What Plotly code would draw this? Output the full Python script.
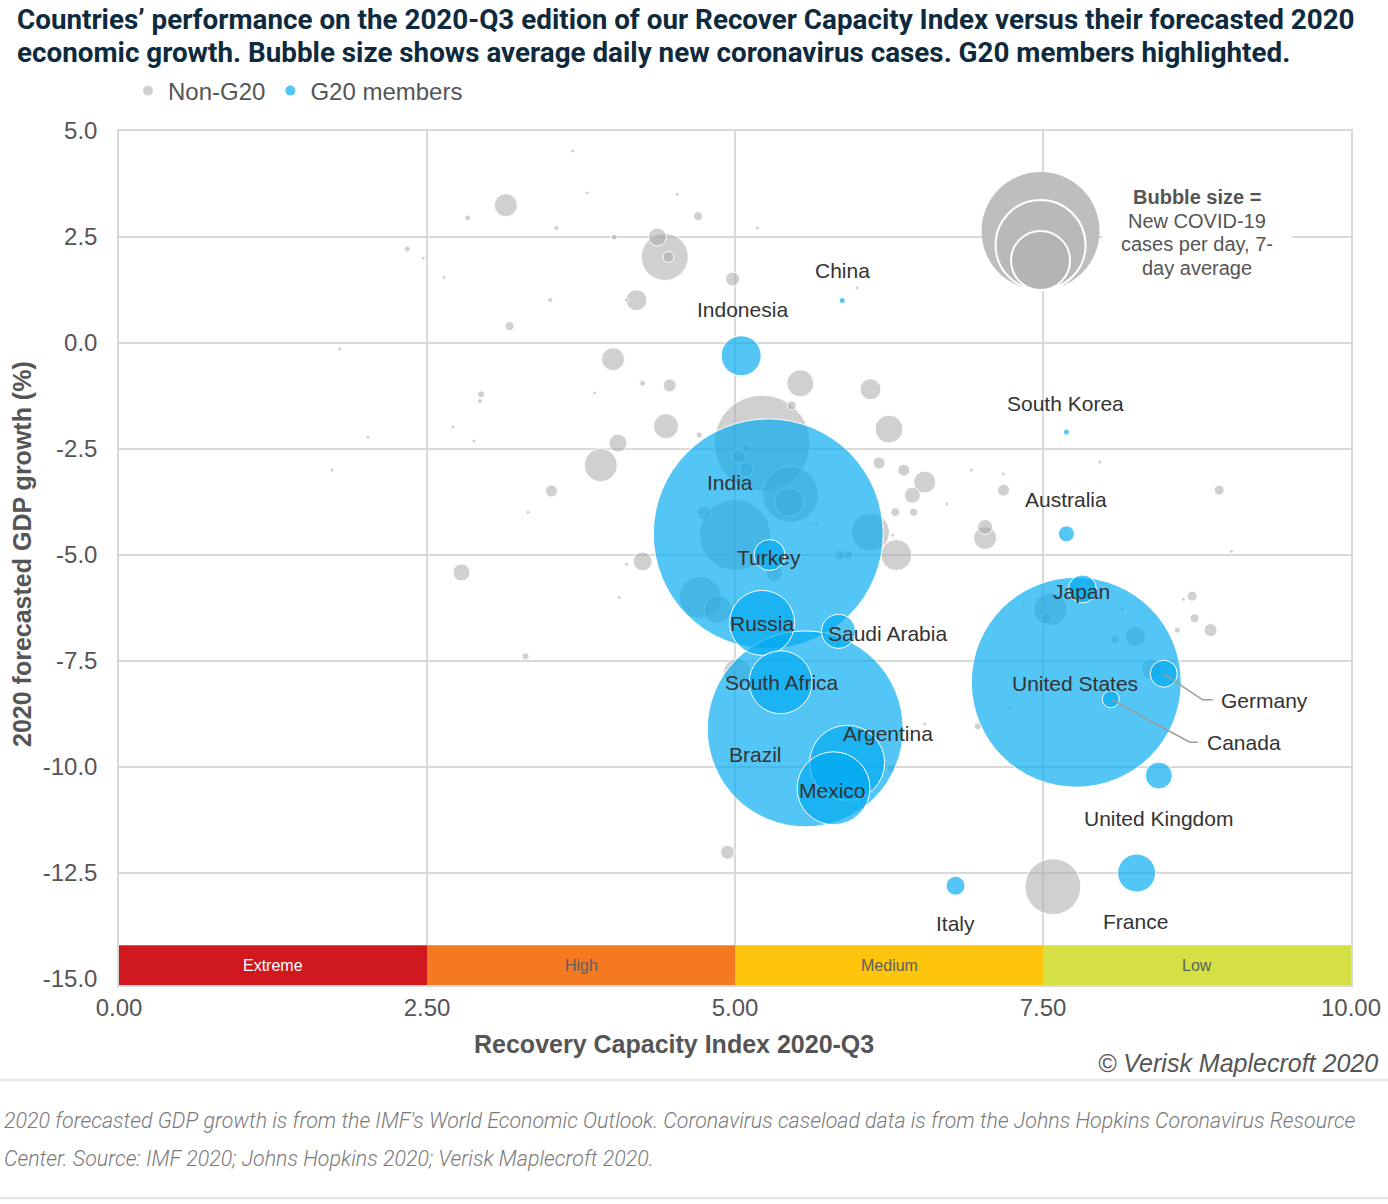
import plotly.graph_objects as go

# ---------------- data ----------------
g20_names = ["China", "Indonesia", "South Korea", "Australia", "India", "Turkey", "Japan",
             "Russia", "Saudi Arabia", "Germany", "United States", "South Africa", "Canada",
             "Brazil", "Argentina", "United Kingdom", "Mexico", "France", "Italy"]
g20_rci = [5.87, 5.05, 7.69, 7.69, 5.27, 5.28, 7.82, 5.22, 5.84, 8.48, 7.77, 5.37, 8.05,
           5.57, 5.91, 8.44, 5.80, 8.26, 6.79]
g20_gdp = [1.0, -0.3, -2.1, -4.5, -4.5, -5.0, -5.8, -6.6, -6.8, -7.8, -8.0, -8.0, -8.4,
           -9.1, -9.9, -10.2, -10.5, -12.5, -12.8]
g20_cases = [41, 1814, 41, 290, 60000, 1090, 889, 4791, 1311, 827, 50000, 4501, 328,
             43560, 6379, 827, 6043, 1637, 409]

non_rci = [3.68, 3.80, 4.53, 3.14, 2.83, 4.70, 3.55, 5.18, 4.02, 4.37, 4.43, 4.46, 4.98, 4.20,
           4.12, 3.50, 3.17, 2.34, 2.47, 2.64, 5.99, 4.01, 4.25, 4.47, 3.86, 5.53, 6.10, 5.46,
           2.94, 2.93, 2.71, 2.88, 2.02, 1.79, 1.73, 4.44, 6.25, 4.05, 4.71, 5.22, 3.91, 3.51,
           3.32, 5.09, 5.03, 5.09, 6.17, 6.37, 6.54, 6.44, 6.30, 6.45, 5.45, 5.44, 5.00, 4.75,
           6.10, 6.31, 6.28, 5.85, 5.92, 5.66, 5.32, 4.25, 4.12, 4.72, 4.86, 4.06, 3.30, 2.78,
           7.96, 6.92, 7.18, 7.18, 8.93, 6.72, 7.03, 7.03, 9.03, 7.56, 7.53, 7.34, 8.14, 8.25,
           8.08, 8.71, 8.64, 8.73, 8.59, 8.86, 8.38, 6.97, 7.23, 7.58, 4.94, 5.02, 6.54, 6.27]
non_gdp = [4.53, 3.54, 3.51, 3.25, 2.95, 2.99, 2.71, 2.71, 2.50, 2.50, 2.03, 2.03, 1.51, 1.01,
           1.01, 1.01, 0.40, 2.22, 2.00, 1.55, 1.30, -0.38, -0.95, -1.00, -1.18, -0.95, -1.09,
           -1.47, -1.21, -1.37, -1.98, -2.31, -2.22, -0.14, -3.00, -1.96, -2.03, -2.36, -2.17,
           -2.36, -2.88, -3.49, -3.99, -2.48, -2.67, -2.98, -2.83, -3.00, -3.28, -3.59, -3.99,
           -3.99, -3.57, -3.75, -4.53, -4.01, -4.46, -5.00, -4.53, -5.00, -5.00, -4.27, -5.43,
           -5.15, -5.22, -6.00, -6.28, -6.00, -7.39, -5.41, -2.81, -3.00, -3.09, -3.47, -3.47,
           -3.80, -4.34, -4.60, -4.91, -6.28, -6.49, -6.18, -6.28, -6.92, -6.99, -5.97, -6.04,
           -6.49, -6.77, -6.77, -7.69, -9.04, -8.59, -12.82, -12.01, -7.77, -8.99, -10.03]
non_cases = [10, 5, 5, 600, 41, 92, 28, 10, 41, 367, 2505, 137, 222, 500, 18, 28, 92, 41, 5, 5,
             5, 600, 41, 192, 18, 827, 500, 92, 56, 28, 18, 5, 18, 5, 5, 709, 889, 367, 41,
             10451, 1235, 163, 10, 92, 222, 222, 163, 163, 549, 290, 92, 73, 3556, 954, 5716,
             222, 1637, 1090, 10, 113, 73, 10, 290, 409, 5, 2000, 889, 10, 56, 328, 18, 5, 10,
             163, 113, 5, 255, 600, 18, 1235, 137, 5, 18, 454, 73, 113, 5, 92, 41, 192, 454,
             56, 5, 3556, 222, 889, 10, 73]

x_ticks = [0, 2.5, 5, 7.5, 10]
y_ticks = [-15, -12.5, -10, -7.5, -5, -2.5, 0, 2.5, 5]
band_edges = [0, 2.5, 5, 7.5, 10]
band_labels = ["Extreme", "High", "Medium", "Low"]
title_lines = ["Countries’ performance on the 2020-Q3 edition of our Recover Capacity Index versus their forecasted 2020",
               "economic growth. Bubble size shows average daily new coronavirus cases. G20 members highlighted."]

# ---------------- styles ----------------
W, H = 1388, 1204
ML, MR, MT, MB = 119, 37, 131, 219
X_MIN, X_MAX = 0, 10
Y_MIN, Y_MAX = -15.14, 5.0
PW, PH = W - ML - MR, H - MT - MB
PX_X = PW / (X_MAX - X_MIN)
PX_Y = PH / (Y_MAX - Y_MIN)
FONT = "Liberation Sans, Arial, sans-serif"
GRID = "#D9D9D9"
TXT = "#555555"
SIZEREF = 2.27
BLUE = "rgba(0,170,240,0.67)"
GREY = "rgba(170,170,170,0.55)"
band_colors = ["#D0191F", "#F47920", "#FEC50C", "#D4E043"]
band_text_colors = ["#FFFFFF", "#5F5F5F", "#5F5F5F", "#5F5F5F"]
BAND_TOP = -14.2


def px_to_paper_x(px):
    return (px - ML) / PW


def px_to_paper_y(py):
    return (H - MB - py) / PH


# label offsets in pixels: (xshift, yshift, xanchor)
label_style = {
    "China": (0, 30, "center"), "Indonesia": (1, 46, "center"),
    "South Korea": (-1, 29, "center"), "Australia": (0, 34, "center"),
    "India": (-38, 51, "center"), "Turkey": (-1, -2, "center"),
    "Japan": (-1, -3, "center"), "Russia": (0, -1, "center"),
    "Saudi Arabia": (-12, -2, "left"), "South Africa": (1, 0, "center"),
    "United States": (-1, -1, "center"), "Argentina": (41, 29, "center"),
    "Brazil": (-50, -26, "center"), "Mexico": (-1, -2, "center"),
    "United Kingdom": (0, -43, "center"), "Italy": (0, -38, "center"),
    "France": (-1, -48, "center"),
}
# leader lines in pixel offsets from the bubble: elbow, end, label start
leader_style = {
    "Germany": ((39, 26), (49, 26), (55, 27)),
    "Canada": ((79, 43), (87, 43), (94, 43)),
}


def sorted_idx(vals):
    return sorted(range(len(vals)), key=lambda i: -vals[i])


fig = go.Figure()

ni = sorted_idx(non_cases)
fig.add_trace(go.Scatter(
    x=[non_rci[i] for i in ni], y=[non_gdp[i] for i in ni], mode="markers",
    name="Non-G20",
    marker=dict(size=[non_cases[i] for i in ni], sizemode="area", sizeref=SIZEREF, sizemin=2,
                color=GREY, opacity=1, line=dict(color="white", width=1)),
    hoverinfo="skip"))

gi = sorted_idx(g20_cases)
fig.add_trace(go.Scatter(
    x=[g20_rci[i] for i in gi], y=[g20_gdp[i] for i in gi], mode="markers",
    name="G20 members", text=[g20_names[i] for i in gi],
    marker=dict(size=[g20_cases[i] for i in gi], sizemode="area", sizeref=SIZEREF, sizemin=2,
                color=BLUE, opacity=1, line=dict(color="white", width=1)),
    hovertemplate="%{text}<extra></extra>"))

annotations = []
shapes = []

# country labels
for name, x, y in zip(g20_names, g20_rci, g20_gdp):
    if name in label_style:
        xs, ys, xa = label_style[name]
        annotations.append(dict(x=x, y=y, xref="x", yref="y", text=name, showarrow=False,
                                xshift=xs, yshift=ys, xanchor=xa,
                                font=dict(family=FONT, size=21, color="#333333")))
    if name in leader_style:
        (ex, ey), (tx, ty), (lx, ly) = leader_style[name]
        path = "M {:.4f},{:.4f} L {:.4f},{:.4f} L {:.4f},{:.4f}".format(
            x, y, x + ex / PX_X, y - ey / PX_Y, x + tx / PX_X, y - ty / PX_Y)
        shapes.append(dict(type="path", path=path, xref="x", yref="y",
                           line=dict(color="#9A9A9A", width=1.5), layer="above"))
        annotations.append(dict(x=x, y=y, xref="x", yref="y", text=name, showarrow=False,
                                xshift=lx, yshift=-ly, xanchor="left",
                                font=dict(family=FONT, size=21, color="#333333")))

# risk bands
for i, lab in enumerate(band_labels):
    shapes.append(dict(type="rect", xref="x", yref="y", x0=band_edges[i], x1=band_edges[i + 1],
                       y0=Y_MIN, y1=BAND_TOP, fillcolor=band_colors[i], line=dict(width=0),
                       layer="above"))
    annotations.append(dict(x=(band_edges[i] + band_edges[i + 1]) / 2, y=(Y_MIN + BAND_TOP) / 2,
                            xref="x", yref="y", text=lab, showarrow=False,
                            font=dict(family=FONT, size=16, color=band_text_colors[i])))

# bubble-size key
key_x, key_y = 7.48, 1.25
for d, col, lw in [(118, "#BEBEBE", 0), (90, "#B9B9B9", 2), (59, "#B4B4B4", 2)]:
    shapes.append(dict(type="circle", xref="x", yref="y", xsizemode="pixel", ysizemode="pixel",
                       xanchor=key_x, yanchor=key_y, x0=-d / 2, x1=d / 2, y0=0, y1=d,
                       fillcolor=col, line=dict(color="white", width=lw), layer="between"))
shapes.append(dict(type="rect", xref="x", yref="y", xsizemode="pixel", ysizemode="pixel",
                   xanchor=8.75, yanchor=2.62, x0=-95, x1=95, y0=-52, y1=52,
                   fillcolor="white", line=dict(width=0), layer="between"))
key_lines = ["<b>Bubble size =</b>", "New COVID-19", "cases per day, 7-", "day average"]
for k, ln in enumerate(key_lines):
    annotations.append(dict(x=8.75, y=2.62, xref="x", yref="y", text=ln, showarrow=False,
                            yshift=35 - k * 23.7, font=dict(family=FONT, size=20, color="#555555")))

# title (two lines, tight spacing)
for ln, py in zip(title_lines, [20, 52]):
    annotations.append(dict(x=px_to_paper_x(15), y=px_to_paper_y(py), xref="paper", yref="paper",
                            xanchor="left", yanchor="middle", align="left", showarrow=False,
                            text="<b>" + ln + "</b>",
                            font=dict(family="Roboto", size=27.8, color="#0E2A3D")))
# axis titles
annotations.append(dict(x=px_to_paper_x(674), y=px_to_paper_y(1044), xref="paper", yref="paper",
                        xanchor="center", yanchor="middle", showarrow=False,
                        text="<b>Recovery Capacity Index 2020-Q3</b>",
                        font=dict(family=FONT, size=25, color=TXT)))
annotations.append(dict(x=px_to_paper_x(22), y=px_to_paper_y(554), xref="paper", yref="paper",
                        xanchor="center", yanchor="middle", showarrow=False, textangle=-90,
                        text="<b>2020 forecasted GDP growth (%)</b>",
                        font=dict(family=FONT, size=25, color=TXT)))
# copyright
annotations.append(dict(x=px_to_paper_x(1380), y=px_to_paper_y(1063),
                        xref="paper", yref="paper", xanchor="right", yanchor="middle",
                        text="<i>© Verisk Maplecroft 2020</i>", showarrow=False,
                        font=dict(family=FONT, size=25, color="#555555")))
# footnote
foot = ["2020 forecasted GDP growth is from the IMF's World Economic Outlook. Coronavirus caseload data is from the Johns Hopkins Coronavirus Resource",
        "Center. Source: IMF 2020; Johns Hopkins 2020; Verisk Maplecroft 2020."]
for ln, py in zip(foot, [1120, 1158]):
    annotations.append(dict(x=px_to_paper_x(2), y=px_to_paper_y(py),
                            xref="paper", yref="paper", xanchor="left", yanchor="middle",
                            text="<i>" + ln + "</i>", showarrow=False,
                            font=dict(family="Roboto", size=21.4, color="#7A7A7A", weight=300)))
for py in [1080, 1198]:
    yy = px_to_paper_y(py)
    shapes.append(dict(type="line", xref="paper", yref="paper", x0=px_to_paper_x(0),
                       x1=px_to_paper_x(W), y0=yy, y1=yy,
                       line=dict(color="#E6E6E6", width=2.5)))

fig.update_layout(
    width=W, height=H, margin=dict(l=ML, r=MR, t=MT, b=MB, autoexpand=False),
    plot_bgcolor="white", paper_bgcolor="white",
    showlegend=True,
    legend=dict(orientation="h", x=px_to_paper_x(128), xanchor="left",
                y=px_to_paper_y(91), yanchor="middle",
                font=dict(family=FONT, size=24, color=TXT), itemsizing="constant",
                itemwidth=30, bgcolor="rgba(0,0,0,0)"),
    xaxis=dict(range=[X_MIN, X_MAX], tickvals=x_ticks, ticktext=[f"{v:.2f}" for v in x_ticks],
               showgrid=True, gridcolor=GRID, gridwidth=1.5, zeroline=False, showline=True,
               mirror=True, linecolor=GRID, linewidth=1.5, ticks="", ticklabelstandoff=0,
               tickfont=dict(family=FONT, size=24, color=TXT), automargin=False),
    yaxis=dict(range=[Y_MIN, Y_MAX], tickvals=y_ticks, ticktext=[f"{v:.1f}" for v in y_ticks],
               showgrid=True, gridcolor=GRID, gridwidth=1.5, zeroline=False, showline=True,
               mirror=True, linecolor=GRID, linewidth=1.5, ticks="", ticklabelstandoff=15,
               tickfont=dict(family=FONT, size=24, color=TXT), automargin=False),
    annotations=annotations, shapes=shapes,
)

fig.write_html("out.html", config={"displayModeBar": False},
               post_script="document.body.style.margin='0';")
